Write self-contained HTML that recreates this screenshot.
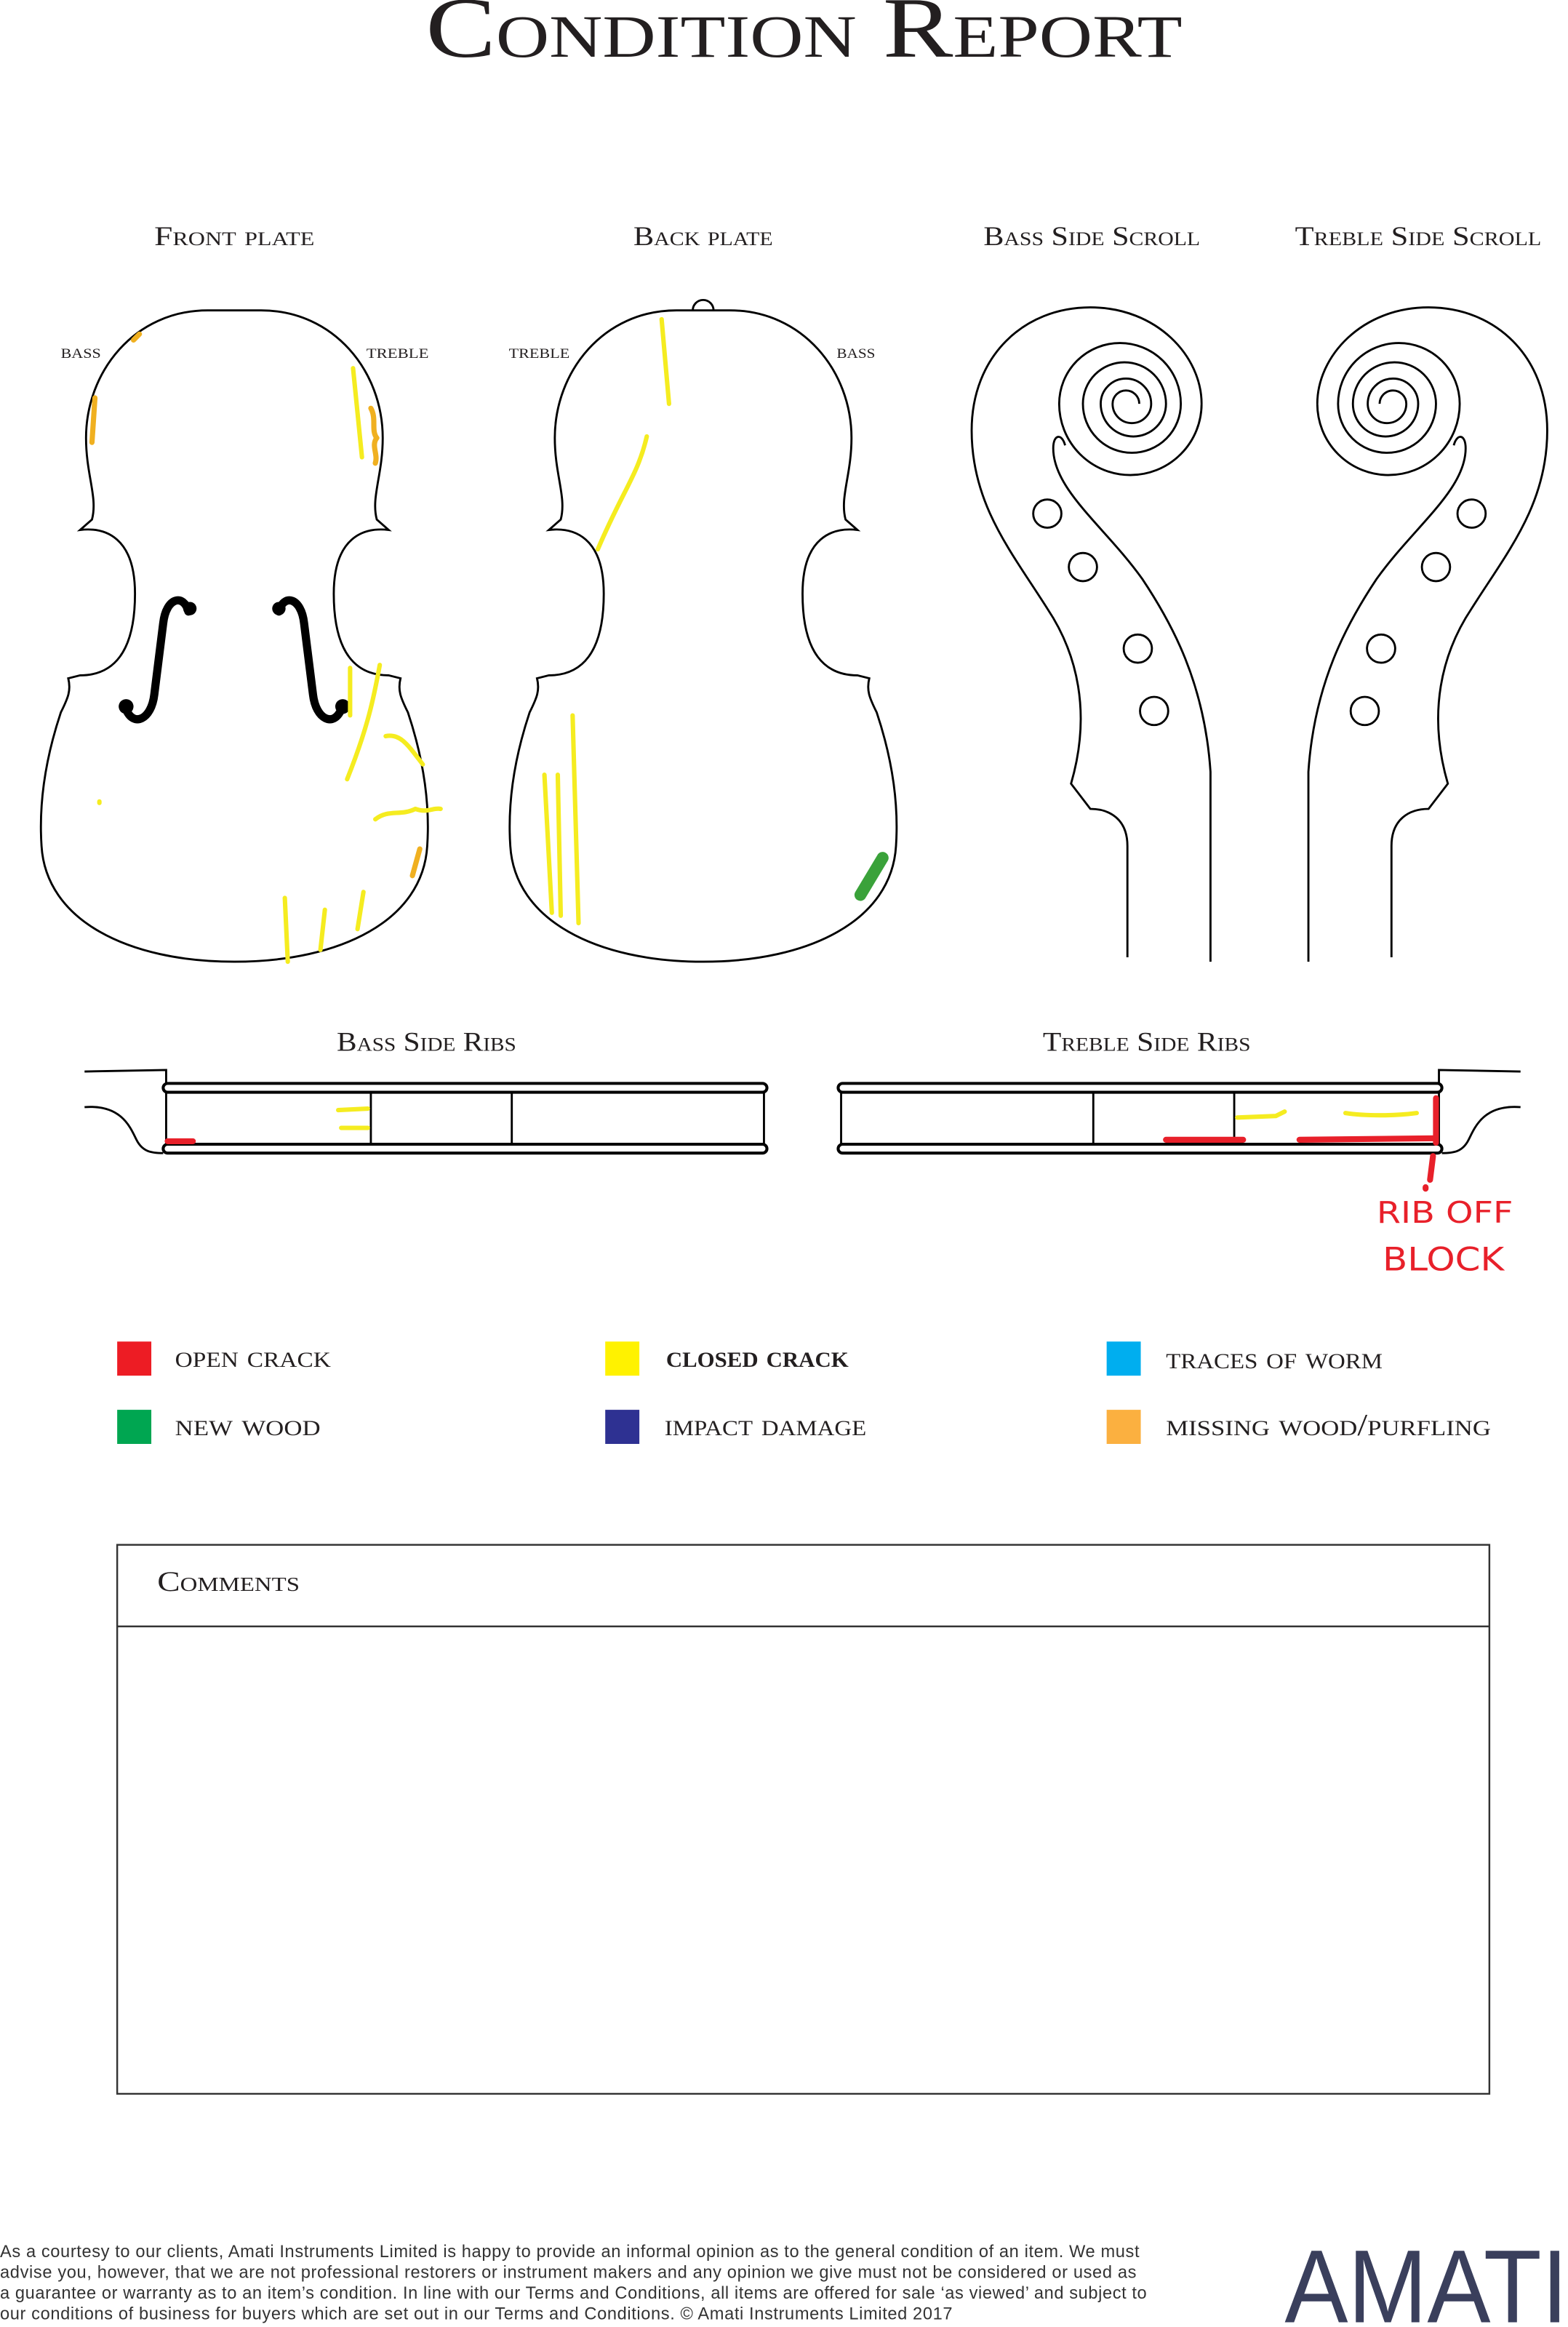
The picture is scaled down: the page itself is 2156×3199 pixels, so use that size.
<!DOCTYPE html>
<html><head><meta charset="utf-8"><style>
html,body{margin:0;padding:0;background:#fff;}
svg{display:block;}
.sc{font-family:"Liberation Serif",serif;font-variant:small-caps;fill:#231f20;}
</style></head><body>
<svg width="2156" height="3199" viewBox="0 0 1057 1568" xmlns="http://www.w3.org/2000/svg">
<defs>
<path id="body" fill="none" stroke="#000" stroke-width="1.4" d="M140,209 L176,209 C225,209 258,250 258,295 C258,320 250,335 254,350 L262,357 C245,355 225,362 225,400 C225,440 240,455 262,455 L270,457 C268,465 270,470 275,480 C285,510 290,540 288,570 C285,620 230,648 158,648 C86,648 31,620 28,570 C26,540 31,510 41,480 C46,470 48,465 46,457 L54,455 C76,455 91,440 91,400 C91,362 71,355 54,357 L62,350 C66,335 58,320 58,295 C58,250 91,209 140,209 Z"/>
<g id="scroll" fill="none" stroke="#000" stroke-width="1.4">
<path d="M760,645 L760,570 C760,552 748,545 735,545 L722,528 C736,480 726,440 706,410 C682,372 655,340 655,290 C655,240 690,207 735,207 C780,207 810,240 810,272"/>
<path d="M810,272 A48,48 0 0 1 714,272 A41,41 0 0 1 796,272 A33,33 0 0 1 730,272 A28,28 0 0 1 786,272 A22,22 0 0 1 742,272 A17,17 0 0 1 776,272 A13,13 0 0 1 750,272 A9,9 0 0 1 768,272"/>
<path d="M816,648 L816,520 C812,460 790,420 770,390 C745,355 710,330 710,302 C710,292 716,292 718,300"/>
<circle cx="706" cy="346" r="9.5"/><circle cx="730" cy="382" r="9.5"/><circle cx="767" cy="437" r="9.5"/><circle cx="778" cy="479" r="9.5"/>
</g>
<g id="ribs" fill="none" stroke="#000" stroke-width="1.4">
<rect x="110" y="730" width="407" height="6" rx="3" stroke-width="2"/>
<rect x="110" y="771" width="407" height="6" rx="3" stroke-width="2"/>
<line x1="112" y1="736" x2="112" y2="771"/><line x1="515" y1="736" x2="515" y2="771"/>
<line x1="250" y1="736" x2="250" y2="771"/><line x1="345" y1="736" x2="345" y2="771"/>
<path d="M57,722 L112,721 L112,730"/>
<path d="M57,746 C82,744 88,760 92,768 C96,776 102,777 110,777"/>
</g>
</defs>

<text x="542" y="38" text-anchor="middle" font-size="58" textLength="510" lengthAdjust="spacingAndGlyphs" class="sc">Condition Report</text>

<text x="104" y="165" font-size="18" textLength="108" lengthAdjust="spacingAndGlyphs" class="sc">Front plate</text>
<text x="427" y="165" font-size="18" textLength="94" lengthAdjust="spacingAndGlyphs" class="sc">Back plate</text>
<text x="663" y="165" font-size="18" textLength="146" lengthAdjust="spacingAndGlyphs" class="sc">Bass Side Scroll</text>
<text x="873" y="165" font-size="18" textLength="166" lengthAdjust="spacingAndGlyphs" class="sc">Treble Side Scroll</text>

<text x="41" y="241" font-size="13" textLength="27" lengthAdjust="spacingAndGlyphs" class="sc">bass</text>
<text x="247" y="241" font-size="13" textLength="42" lengthAdjust="spacingAndGlyphs" class="sc">treble</text>
<text x="343" y="241" font-size="13" textLength="41" lengthAdjust="spacingAndGlyphs" class="sc">treble</text>
<text x="564" y="241" font-size="13" textLength="26" lengthAdjust="spacingAndGlyphs" class="sc">bass</text>

<use href="#body"/>
<use href="#body" transform="translate(316,0)"/>
<path d="M467,209 A7,7 0 0 1 481,209" fill="none" stroke="#000" stroke-width="1.4"/>

<g fill="none" stroke="#000" stroke-width="5.5" stroke-linecap="round">
<path d="M127,412 C124,400 112,402 110,420 L104,468 C102,485 90,490 85,478"/>
<path d="M188,412 C191,400 203,402 205,420 L211,468 C213,485 225,490 230,478"/>
</g>
<g fill="#000"><circle cx="128" cy="410" r="4.5"/><circle cx="85" cy="476" r="5"/><circle cx="188" cy="410" r="4.5"/><circle cx="231" cy="476" r="5"/></g>

<use href="#scroll"/>
<use href="#scroll" transform="translate(1698,0) scale(-1,1)"/>

<text x="227" y="708" font-size="18" textLength="121" lengthAdjust="spacingAndGlyphs" class="sc">Bass Side Ribs</text>
<text x="703" y="708" font-size="18" textLength="140" lengthAdjust="spacingAndGlyphs" class="sc">Treble Side Ribs</text>
<use href="#ribs"/>
<use href="#ribs" transform="translate(1082,0) scale(-1,1)"/>

<g fill="none" stroke-linecap="round" stroke-linejoin="round">
<g stroke="#f0b020" stroke-width="3.5">
<path d="M90,229 L94,225"/><path d="M64,268 L62,298"/>
<path d="M250,275 C254,282 250,290 254,295 C250,300 255,306 253,312"/>
<path d="M283,572 L278,590"/>
</g>
<g stroke="#f5ec20" stroke-width="3">
<path d="M238,248 L244,308"/>
<path d="M256,448 C252,470 248,490 234,525"/><path d="M236,450 L236,482"/>
<path d="M260,496 C270,494 275,502 285,515"/>
<path d="M253,552 C262,545 270,550 280,545 C288,548 292,544 297,545"/>
<path d="M192,605 L194,648"/><path d="M219,613 L216,640"/><path d="M245,601 L241,626"/>
<path d="M67,540 L67,541"/>
<path d="M446,215 L451,272"/><path d="M436,294 C430,320 420,330 403,370"/>
<path d="M386,482 L390,622"/><path d="M376,522 L378,617"/><path d="M367,522 L372,615"/>
<path d="M228,748 L248,747"/><path d="M230,760 L248,760"/>
<path d="M834,753 L860,752 L866,749"/><path d="M907,750 C920,752 940,752 955,750"/>
</g>
<path d="M580,603 L595,578" stroke="#3aa23a" stroke-width="8"/>
<g stroke="#e8202a" stroke-width="4">
<path d="M113,769 L130,769"/>
<path d="M786,768 L838,768"/><path d="M876,768 L968,767"/><path d="M968,740 L968,770"/>
<path d="M966,779 L964,795"/><path d="M961,800 L961,801"/>
</g>
</g>
<text x="928" y="824" font-family="DejaVu Sans, sans-serif" font-size="20" fill="#e8202a" textLength="92" lengthAdjust="spacingAndGlyphs">RIB OFF</text>
<text x="932" y="856" font-family="DejaVu Sans, sans-serif" font-size="22" fill="#e8202a" textLength="82" lengthAdjust="spacingAndGlyphs">BLOCK</text>

<rect x="79" y="904" width="23" height="23" fill="#ed1c24"/>
<rect x="408" y="904" width="23" height="23" fill="#fff200"/>
<rect x="746" y="904" width="23" height="23" fill="#00aeef"/>
<rect x="79" y="950" width="23" height="23" fill="#00a651"/>
<rect x="408" y="950" width="23" height="23" fill="#2e3192"/>
<rect x="746" y="950" width="23" height="23" fill="#fbb040"/>
<g font-size="21">
<text x="118" y="921" textLength="105" lengthAdjust="spacingAndGlyphs" class="sc">open crack</text>
<text x="449" y="921" textLength="123" lengthAdjust="spacingAndGlyphs" class="sc" font-weight="bold">closed crack</text>
<text x="786" y="922" textLength="146" lengthAdjust="spacingAndGlyphs" class="sc">traces of worm</text>
<text x="118" y="967" textLength="98" lengthAdjust="spacingAndGlyphs" class="sc">new wood</text>
<text x="448" y="967" textLength="136" lengthAdjust="spacingAndGlyphs" class="sc">impact damage</text>
<text x="786" y="967" textLength="219" lengthAdjust="spacingAndGlyphs" class="sc">missing wood/purfling</text>
</g>

<rect x="79" y="1041" width="925" height="370" fill="none" stroke="#333" stroke-width="1.2"/>
<line x1="79" y1="1096" x2="1004" y2="1096" stroke="#333" stroke-width="1.2"/>
<text x="106" y="1072" font-size="19" textLength="96" lengthAdjust="spacingAndGlyphs" class="sc">Comments</text>

<g font-family="Liberation Sans, sans-serif" font-size="11.6" fill="#333">
<text x="0" y="1521" textLength="768">As a courtesy to our clients, Amati Instruments Limited is happy to provide an informal opinion as to the general condition of an item. We must</text>
<text x="0" y="1535" textLength="766">advise you, however, that we are not professional restorers or instrument makers and any opinion we give must not be considered or used as</text>
<text x="0" y="1549" textLength="773">a guarantee or warranty as to an item’s condition. In line with our Terms and Conditions, all items are offered for sale ‘as viewed’ and subject to</text>
<text x="0" y="1563" textLength="642">our conditions of business for buyers which are set out in our Terms and Conditions. © Amati Instruments Limited 2017</text>
</g>
<text x="866" y="1565" font-family="Liberation Sans, sans-serif" font-size="70" fill="#3a3f5c" textLength="191" lengthAdjust="spacingAndGlyphs">AMATI</text>
</svg>
</body></html>
